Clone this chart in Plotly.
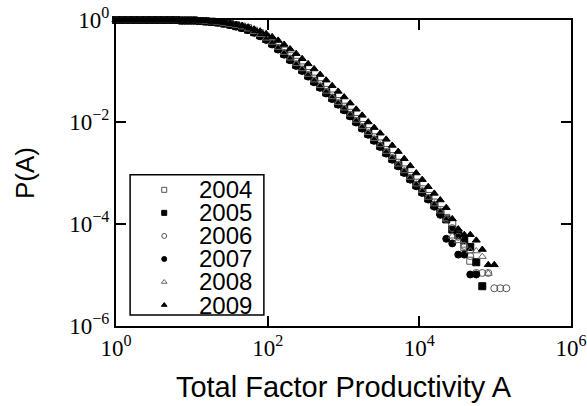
import plotly.graph_objects as go

# Logarithmic bins of Total Factor Productivity (successive ratio 1.2)
X_BINS = [
    1.0, 1.2, 1.44, 1.728, 2.074, 2.488, 2.986, 3.583, 4.300, 5.160,
    6.192, 7.430, 8.916, 10.70, 12.84, 15.41, 18.49, 22.19, 26.62, 31.95,
    38.34, 46.01, 55.21, 66.25, 79.50, 95.40, 114.5, 137.4, 164.8, 197.8,
    237.4, 284.9, 341.8, 410.2, 492.2, 590.7, 708.8, 850.6, 1020.7, 1224.9,
    1469.8, 1763.8, 2116.5, 2539.8, 3047.8, 3657.3, 4388.8, 5266.6, 6319.9, 7583.9,
    9100.7, 10921, 13105, 15726, 18871, 22645, 27174, 32609, 39131, 46957,
    56348, 67618, 81141, 97370, 116844, 140212,
]

YEARS = ["2004", "2005", "2006", "2007", "2008", "2009"]

# log10 of the cumulative distribution P(A) for each year, one value per bin
LOG_P_2004 = [
    0, 0, 0, 0, 0, 0, 0, 0, 0, 0, 0,
    -0.01, -0.01, -0.01, -0.02, -0.02, -0.03, -0.04, -0.06, -0.08,
    -0.10, -0.13, -0.16, -0.21, -0.26, -0.33, -0.41, -0.50, -0.60, -0.71,
    -0.82, -0.93, -1.04, -1.15, -1.26, -1.37, -1.48, -1.59, -1.70, -1.82,
    -1.94, -2.06, -2.18, -2.30, -2.42, -2.55, -2.67, -2.80, -2.93, -3.06,
    -3.19, -3.32, -3.45, -3.58, -3.73, -3.88, -4.00, -4.18, -4.45, -4.72,
]
LOG_P_2005 = [
    0, 0, 0, 0, 0, 0, 0, 0, 0, 0, 0,
    -0.01, -0.01, -0.01, -0.02, -0.03, -0.04, -0.05, -0.07, -0.09,
    -0.12, -0.15, -0.19, -0.24, -0.30, -0.37, -0.46, -0.56, -0.66, -0.77,
    -0.88, -0.98, -1.09, -1.20, -1.31, -1.42, -1.53, -1.64, -1.75, -1.87,
    -1.99, -2.11, -2.23, -2.35, -2.47, -2.60, -2.72, -2.85, -2.98, -3.11,
    -3.24, -3.37, -3.50, -3.63, -3.77, -3.91, -4.11, -4.22, -4.32, -4.45,
    -4.75, -5.22,
]
LOG_P_2006 = [
    0, 0, 0, 0, 0, 0, 0, 0, 0, 0, 0,
    -0.01, -0.01, -0.01, -0.02, -0.03, -0.04, -0.05, -0.07, -0.09,
    -0.12, -0.15, -0.19, -0.24, -0.30, -0.37, -0.45, -0.55, -0.65, -0.76,
    -0.87, -0.98, -1.09, -1.20, -1.31, -1.42, -1.53, -1.64, -1.75, -1.87,
    -1.99, -2.11, -2.23, -2.35, -2.47, -2.59, -2.71, -2.84, -2.97, -3.10,
    -3.23, -3.36, -3.49, -3.62, -3.76, -3.90, -4.08, -4.25, -4.43, -4.63,
    -4.96, -4.96, -4.96, -5.26, -5.26, -5.26,
]
LOG_P_2007 = [
    0, 0, 0, 0, 0, 0, 0, 0, 0, 0, 0,
    -0.01, -0.01, -0.01, -0.02, -0.03, -0.04, -0.05, -0.07, -0.10,
    -0.13, -0.16, -0.20, -0.25, -0.32, -0.39, -0.48, -0.58, -0.68, -0.79,
    -0.90, -1.00, -1.11, -1.22, -1.33, -1.44, -1.55, -1.66, -1.77, -1.89,
    -2.01, -2.13, -2.25, -2.37, -2.49, -2.62, -2.74, -2.87, -3.00, -3.13,
    -3.26, -3.39, -3.52, -3.66, -3.82, -4.29, -4.38, -4.60, -4.60, -4.99,
    -4.99,
]
LOG_P_2008 = [
    0, 0, 0, 0, 0, 0, 0, 0, 0, 0, 0,
    -0.01, -0.01, -0.01, -0.02, -0.03, -0.04, -0.05, -0.07, -0.09,
    -0.11, -0.14, -0.18, -0.23, -0.29, -0.36, -0.44, -0.54, -0.64, -0.75,
    -0.86, -0.96, -1.07, -1.18, -1.29, -1.40, -1.51, -1.62, -1.73, -1.85,
    -1.97, -2.09, -2.21, -2.33, -2.45, -2.58, -2.70, -2.83, -2.96, -3.09,
    -3.22, -3.35, -3.48, -3.61, -3.75, -3.90, -4.24, -4.33, -4.42, -4.53,
    -4.53, -4.64, -4.97,
]
LOG_P_2009 = [
    0, 0, 0, 0, 0, 0, 0, 0, 0, 0, 0,
    -0.01, -0.01, -0.01, -0.01, -0.02, -0.03, -0.04, -0.05, -0.07,
    -0.09, -0.11, -0.14, -0.18, -0.22, -0.27, -0.33, -0.40, -0.48, -0.57,
    -0.66, -0.76, -0.86, -0.96, -1.07, -1.18, -1.29, -1.40, -1.51, -1.63,
    -1.75, -1.87, -2.00, -2.11, -2.22, -2.34, -2.46, -2.58, -2.72, -2.86,
    -3.00, -3.13, -3.27, -3.40, -3.53, -3.68, -3.90, -4.10, -4.21, -4.21,
    -4.32, -4.50, -4.80, -4.80,
]

SERIES_LOG_P = [LOG_P_2004, LOG_P_2005, LOG_P_2006, LOG_P_2007, LOG_P_2008, LOG_P_2009]

X_TICK_VALUES = [1, 1e2, 1e4, 1e6]
X_TICK_TEXT = ["10<sup>0</sup>", "10<sup>2</sup>", "10<sup>4</sup>", "10<sup>6</sup>"]
Y_TICK_VALUES = [1, 1e-2, 1e-4, 1e-6]
Y_TICK_TEXT = ["10<sup>0</sup>", "10<sup>\u22122</sup>", "10<sup>\u22124</sup>", "10<sup>\u22126</sup>"]

# marker style per year: (symbol, colour)
STYLES = [
    ("square-open", "#555555"),
    ("square", "black"),
    ("circle-open", "#555555"),
    ("circle", "black"),
    ("triangle-up-open", "#666666"),
    ("triangle-up", "black"),
]

SANS = "Liberation Sans, Arial, sans-serif"
SERIF = "Liberation Serif, Times New Roman, serif"

fig = go.Figure()

for year, log_p, (symbol, colour) in zip(YEARS, SERIES_LOG_P, STYLES):
    fig.add_trace(go.Scatter(
        x=X_BINS[:len(log_p)],
        y=[10 ** v for v in log_p],
        mode="markers",
        name=year,
        cliponaxis=False,
        showlegend=False,
        marker=dict(symbol=symbol, size=7, color=colour,
                    line=dict(width=1, color=colour)),
    ))

# Legend drawn on an overlay axis spanning the plot area (0..1 in both directions)
LEG_LEFT, LEG_RIGHT = 0.031, 0.325
LEG_TOP, LEG_BOTTOM = 0.494, 0.036
LEG_MARKER_X = 0.106
LEG_TEXT_RIGHT = 0.300
LEG_FIRST_ROW = 0.445
LEG_ROW_STEP = 0.0753

for i, (year, (symbol, colour)) in enumerate(zip(YEARS, STYLES)):
    row_y = LEG_FIRST_ROW - i * LEG_ROW_STEP
    fig.add_trace(go.Scatter(
        x=[LEG_MARKER_X], y=[row_y], xaxis="x2", yaxis="y2",
        mode="markers", showlegend=False, hoverinfo="skip",
        marker=dict(symbol=symbol, size=5, color=colour,
                    line=dict(width=1, color=colour)),
    ))
    fig.add_annotation(
        x=LEG_TEXT_RIGHT, y=row_y, xref="paper", yref="paper",
        text=year, showarrow=False, xanchor="right", yanchor="middle",
        height=21, borderpad=0,
        font=dict(family=SANS, size=24, color="black"),
    )

fig.add_shape(type="rect", xref="paper", yref="paper",
              x0=LEG_LEFT, x1=LEG_RIGHT, y0=LEG_BOTTOM, y1=LEG_TOP,
              line=dict(color="black", width=1.5), fillcolor="rgba(0,0,0,0)")

axis_common = dict(
    type="log",
    automargin=False,
    showgrid=False,
    zeroline=False,
    showline=True,
    linecolor="black",
    linewidth=2,
    mirror="ticks",
    ticks="inside",
    ticklen=10,
    tickwidth=2,
    tickcolor="black",
    tickfont=dict(family=SERIF, size=23, color="black"),
)

fig.update_layout(
    width=587,
    height=406,
    margin=dict(l=116, r=16, t=20, b=80),
    paper_bgcolor="white",
    plot_bgcolor="white",
    showlegend=False,
    xaxis=dict(
        axis_common,
        range=[0, 6],
        tickmode="array",
        tickvals=X_TICK_VALUES,
        ticktext=X_TICK_TEXT,
        title=dict(text="Total Factor Productivity A",
                   font=dict(family=SANS, size=29, color="black"), standoff=17),
    ),
    yaxis=dict(
        axis_common,
        range=[-6, 0],
        tickmode="array",
        tickvals=Y_TICK_VALUES,
        ticktext=Y_TICK_TEXT,
        title=dict(text="P(A)", font=dict(family=SANS, size=26, color="black"),
                   standoff=27),
    ),
    xaxis2=dict(overlaying="x", range=[0, 1], visible=False, anchor="y2"),
    yaxis2=dict(overlaying="y", range=[0, 1], visible=False, anchor="x2"),
)

fig.write_html("out.html")
